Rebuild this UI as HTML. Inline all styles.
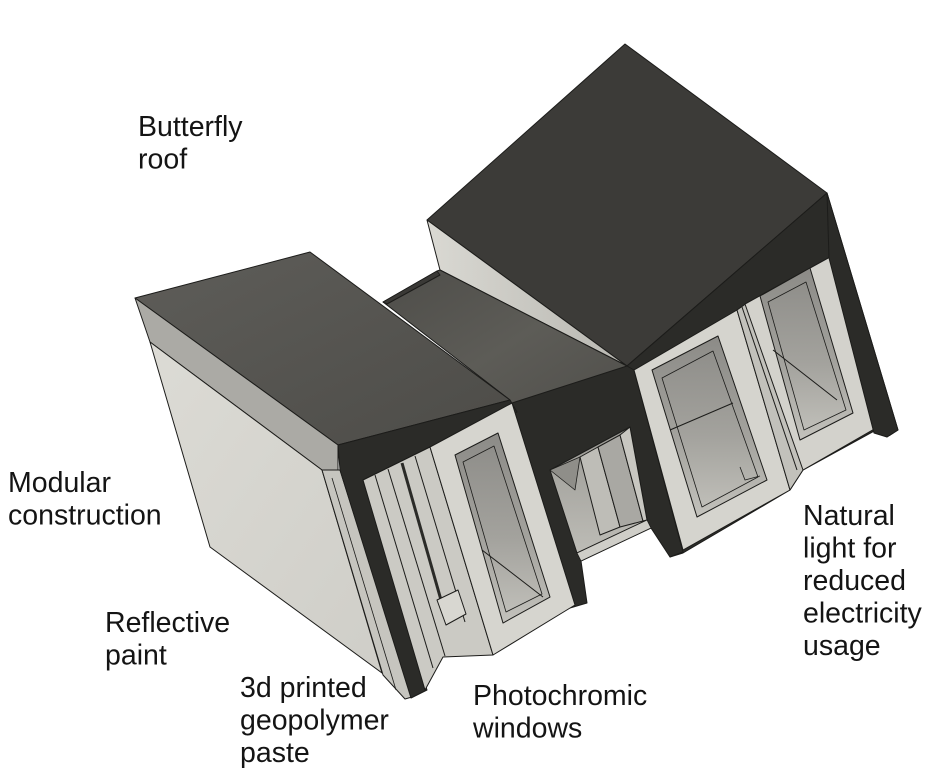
<!DOCTYPE html>
<html>
<head>
<meta charset="utf-8">
<style>
html,body{margin:0;padding:0;background:#fff;}
svg{display:block;}
text{font-family:"Liberation Sans",Arial,sans-serif;font-size:28.5px;fill:#141414;}
</style>
</head>
<body>
<svg width="936" height="781" viewBox="0 0 936 781" xmlns="http://www.w3.org/2000/svg">
<defs>
  <linearGradient id="gable" x1="0" y1="0" x2="1" y2="0">
    <stop offset="0" stop-color="#dad9d3"/>
    <stop offset="1" stop-color="#b8b7b1"/>
  </linearGradient>
  <linearGradient id="mroof" x1="0" y1="0" x2="1" y2="1">
    <stop offset="0" stop-color="#4e4d49"/>
    <stop offset="0.5" stop-color="#5d5c57"/>
    <stop offset="1" stop-color="#4f4e4a"/>
  </linearGradient>
  <linearGradient id="lroof" x1="0" y1="0" x2="1" y2="1">
    <stop offset="0" stop-color="#5e5d59"/>
    <stop offset="1" stop-color="#4d4c48"/>
  </linearGradient>
  <linearGradient id="wall" x1="0" y1="0" x2="1" y2="1">
    <stop offset="0" stop-color="#dcdbd5"/>
    <stop offset="1" stop-color="#cfcec8"/>
  </linearGradient>
  <linearGradient id="win" x1="0" y1="0" x2="0" y2="1">
    <stop offset="0" stop-color="#8c8b87"/>
    <stop offset="0.55" stop-color="#a3a29d"/>
    <stop offset="1" stop-color="#c3c2bc"/>
  </linearGradient>
  <linearGradient id="win2" x1="0" y1="0" x2="0" y2="1">
    <stop offset="0" stop-color="#9a9994"/>
    <stop offset="1" stop-color="#bdbcb6"/>
  </linearGradient>
</defs>

<g stroke="#1c1c1a" stroke-width="1" stroke-linejoin="round">
  <!-- Big right roof -->
  <polygon points="625,44 827,193 627,366 427,220" fill="#3c3b38"/>
  <!-- light gable of big block -->
  <polygon points="427,220 440,270 627,366" fill="url(#gable)"/>
  <!-- middle roof -->
  <polygon points="383,302 437,271 440,270 627,366 520,423 510,400" fill="url(#mroof)"/>
  <polygon points="383,302 437,271 440,275 387,304" fill="#3a3936"/>

  <!-- right module dark front -->
  <polygon points="627,366 827,193 898,430 887,437 876,430 803,470 790,490 683,553 670,557" fill="#2b2b28"/>
  <!-- middle module dark front -->
  <polygon points="512,403 627,366 634,370 683,552 670,557 651,528 581,561 587,603 570,608" fill="#2b2b28"/>

  <!-- middle window opening -->
  <polygon points="550,470 630,427 647,520 577,553" fill="url(#win2)"/>
  <polygon points="550,470 580,457 575,490" fill="#8f8e89" stroke-width="0.8"/>
  <polygon points="580,457 598,447 620,527 600,535" fill="#bebdb7"/>
  <polygon points="598,447 620,435 643,521 620,527" fill="#a9a8a3"/>
  <polygon points="620,435 630,427 647,520 643,521" fill="#c8c7c1"/>
  <polygon points="577,553 647,520 651,528 581,561" fill="#cfcec8" stroke-width="0.8"/>

  <!-- right frame 1 -->
  <polygon points="634,370 737,310 790,490 683,550" fill="#d5d4ce"/>
  <polygon points="652,370 718,336 767,480 697,517" fill="url(#win)"/>
  <polygon points="662,378 713,351 758,477 702,507" fill="none" stroke-width="0.8"/>
  <line x1="670" y1="430" x2="733" y2="403"/>
  <polyline points="740,467 745,480 760,476" fill="none" stroke-width="0.8"/>

  <!-- slats between frame 1 and 2 -->
  <polygon points="737,310 747,303 807,445 803,470 790,490" fill="#c2c1bb"/>
  <line x1="742" y1="307" x2="797" y2="470"/>
  <line x1="750" y1="303" x2="806" y2="455"/>

  <!-- right frame 2 -->
  <polygon points="745,304 830,257 876,428 803,470" fill="#d3d2cc"/>
  <polygon points="760,296 810,268 853,413 800,440" fill="url(#win)"/>
  <polygon points="768,302 806,282 846,410 804,430" fill="none" stroke-width="0.8"/>
  <line x1="773" y1="350" x2="837" y2="400"/>
  <!-- right pillar -->
  <polygon points="827,193 898,430 887,437 874,433 829,258" fill="#2b2b28"/>

  <!-- LEFT MODULE -->
  <polygon points="135,298 310,252 510,400 338,445" fill="url(#lroof)"/>
  <polygon points="135,298 338,445 338,470 322,470 150,342" fill="#abaaa5"/>
  <polygon points="150,342 322,470 382,673 210,547" fill="url(#wall)"/>
  <polygon points="322,470 340,470 412,697 405,699 383,675" fill="#c6c5bf"/>
  <line x1="332" y1="478" x2="396" y2="690" stroke-width="0.8"/>
  <polygon points="338,445 510,400 517,412 430,447 363,480 427,690 411,698 340,470" fill="#2b2b28"/>
  <polygon points="363,480 430,447 493,655 443,657 425,690" fill="#cbcac4"/>
  <line x1="375" y1="475" x2="433" y2="668"/>
  <line x1="388" y1="469" x2="445" y2="656"/>
  <line x1="402" y1="463" x2="441" y2="600" stroke-width="3" stroke="#2b2b28"/>
  <line x1="415" y1="456" x2="465" y2="622"/>
  <polygon points="437,600 458,590 466,614 446,625" fill="#d8d7d1"/>
  <polygon points="430,447 512,403 575,605 493,655" fill="#d6d5cf"/>
  <polygon points="455,455 498,433 550,597 503,623" fill="url(#win)"/>
  <polygon points="463,462 494,446 542,594 506,612" fill="none" stroke-width="0.8"/>
  <line x1="482" y1="550" x2="543" y2="597"/>
</g>

<text x="138" y="136">Butterfly</text>
<text x="138" y="168.5">roof</text>

<text x="8" y="492">Modular</text>
<text x="8" y="524.5">construction</text>

<text x="105" y="632">Reflective</text>
<text x="105" y="664.5">paint</text>

<text x="240" y="697">3d printed</text>
<text x="240" y="729.5">geopolymer</text>
<text x="240" y="762">paste</text>

<text x="473" y="705">Photochromic</text>
<text x="473" y="737.5">windows</text>

<text x="803" y="525">Natural</text>
<text x="803" y="557.5">light for</text>
<text x="803" y="590">reduced</text>
<text x="803" y="622.5">electricity</text>
<text x="803" y="655">usage</text>
</svg>
</body>
</html>
